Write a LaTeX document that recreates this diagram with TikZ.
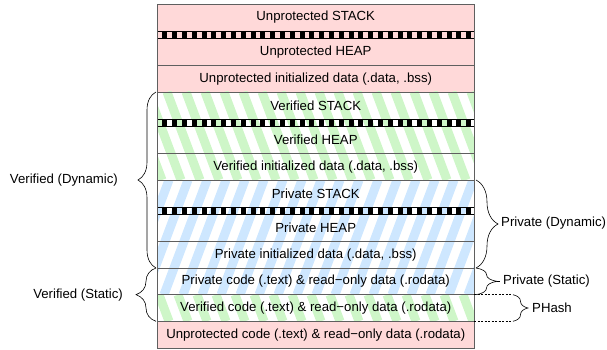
\documentclass[tikz,border=0pt]{standalone}
\usepackage{fontspec}
\setmainfont{Liberation Sans}
\usepackage{tikz}
\usetikzlibrary{decorations.pathreplacing}

\definecolor{unprot}{RGB}{255,217,217}
\definecolor{verif}{RGB}{206,246,200}
\definecolor{priv}{RGB}{206,231,255}
\definecolor{rowline}{RGB}{95,95,95}

\begin{document}
\begin{tikzpicture}[x=1pt,y=-1pt,
    rowtext/.style={font=\fontsize{13.2}{15}\selectfont, inner sep=0pt},
    sidetext/.style={font=\fontsize{13.2}{15}\selectfont, inner sep=0pt},
    vstripe/.style={verif, line width=9pt},
    pstripe/.style={priv, line width=9pt},
    rowsep/.style={rowline, line width=0.7pt},
    bandsq/.style={black, line width=6.4pt, dash pattern=on 4.9pt off 4.9pt, dash phase=4.9pt},
    bandedge/.style={black, line width=0.7pt},
    membrace/.style={decorate, decoration={brace, amplitude=#1}, line width=0.6pt}]

  \useasboundingbox (0,0) rectangle (607,350);

  % --- unprotected areas (plain) ------------------------------------
  \fill[unprot] (157.5,4) rectangle (474,92);
  \fill[unprot] (157.5,321.3) rectangle (474,348);

  % --- verified areas (stripes down-right) --------------------------
  \begin{scope}
    \clip (157.5,92) rectangle (474,180);
    \foreach \s in {110,129,...,480}
      \draw[vstripe] (\s,92) -- ++(33,88);
  \end{scope}
  \begin{scope}
    \clip (157.5,294.7) rectangle (474,321.3);
    \foreach \s in {140,159,...,480}
      \draw[vstripe] (\s,294.7) -- ++(10,26.6);
  \end{scope}

  % --- private areas (stripes down-left) ----------------------------
  \begin{scope}
    \clip (157.5,180) rectangle (474,294.7);
    \foreach \s in {150,169,...,520}
      \draw[pstripe] (\s,180) -- ++(-43,114.7);
  \end{scope}

  % --- row borders --------------------------------------------------
  \foreach \y in {65,92,153,180,241,268,294.7,321.3}
    \draw[rowsep] (157.5,\y) -- (474,\y);

  % stack / heap boundary bands
  \foreach \t in {31,119,207} {
    \draw[bandsq] (157.5,\t+3.5) -- (474,\t+3.5);
    \draw[bandedge] (157.5,\t) -- (474,\t) (157.5,\t+7) -- (474,\t+7);
  }

  % outer frame
  \draw[rowline, line width=0.8pt] (157.5,4) rectangle (474,348);

  % --- row labels ---------------------------------------------------
  \node[rowtext] (ustack) at (315.75,17.5)  {Unprotected STACK};
  \node[rowtext] (uheap)  at (315.75,52)    {Unprotected HEAP};
  \node[rowtext] (udata)  at (315.75,79)    {Unprotected initialized data (.data, .bss)};
  \node[rowtext] (vstack) at (315.75,105.5) {Verified STACK};
  \node[rowtext] (vheap)  at (315.75,140)   {Verified HEAP};
  \node[rowtext] (vdata)  at (315.75,167)   {Verified initialized data (.data, .bss)};
  \node[rowtext] (pstack) at (315.75,193.5) {Private STACK};
  \node[rowtext] (pheap)  at (315.75,228)   {Private HEAP};
  \node[rowtext] (pdata)  at (315.75,255)   {Private initialized data (.data, .bss)};
  \node[rowtext] (pcode)  at (315.75,281.5) {Private code (.text) \& read−only data (.rodata)};
  \node[rowtext] (vcode)  at (315.75,308)   {Verified code (.text) \& read−only data (.rodata)};
  \node[rowtext] (ucode)  at (315.75,334.7) {Unprotected code (.text) \& read−only data (.rodata)};

  % --- left braces --------------------------------------------------
  \coordinate (vdtop) at (156,92);
  \coordinate (vdbot) at (156,268);
  \coordinate (vsbot) at (156,321.3);
  \draw[membrace=18] (vdbot) -- (vdtop);
  \draw[membrace=20] (vsbot) -- (vdbot);
  \node[sidetext, anchor=east] (vdyn)  at (118,180) {Verified (Dynamic)};
  \node[sidetext, anchor=east] (vstat) at (123,295) {Verified (Static)};

  % --- right braces -------------------------------------------------
  \coordinate (pdtop) at (476,180);
  \coordinate (pdbot) at (476,268);
  \coordinate (psbot) at (476,294.7);
  \draw[membrace=22] (pdtop) -- (pdbot);
  \draw[membrace=21] (pdbot) -- (psbot);
  \draw[line width=1pt] (497,281.3) -- (500,281.3);
  \node[sidetext, anchor=west] (pdyn)  at (501,223)   {Private (Dynamic)};
  \node[sidetext, anchor=west] (pstat) at (503,281.3) {Private (Static)};

  % hash range
  \coordinate (hta) at (474,294.7);
  \coordinate (htb) at (512,294.7);
  \coordinate (hba) at (474,321.3);
  \coordinate (hbb) at (512,321.3);
  \draw[dash pattern=on 2pt off 1.5pt, line width=0.6pt] (hta) -- (htb) (hba) -- (hbb);
  \draw[membrace=15] ([xshift=1pt]htb) -- ([xshift=1pt]hbb);
  \node[sidetext, anchor=west] (phash) at (532,308) {PHash};

\end{tikzpicture}
\end{document}
